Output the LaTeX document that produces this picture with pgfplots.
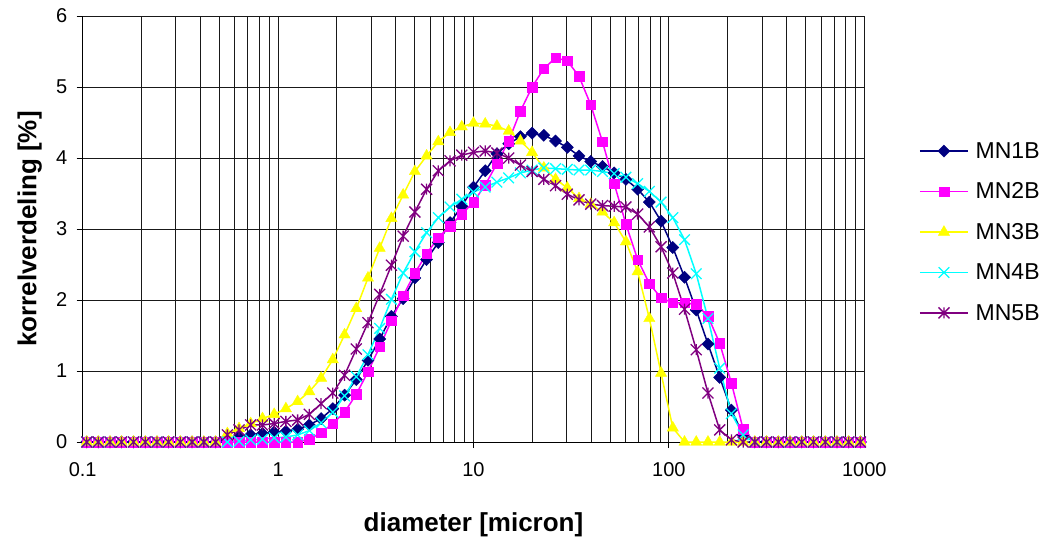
\documentclass[border=0pt]{standalone}
\usepackage{fontspec}
\setmainfont{Liberation Sans}
\usepackage{pgfplots}
\pgfplotsset{compat=1.18}
\usepackage{pgfplotstable}

\definecolor{mnA}{RGB}{0,0,128}
\definecolor{mnB}{RGB}{255,0,255}
\definecolor{mnC}{RGB}{255,255,0}
\definecolor{mnD}{RGB}{0,255,255}
\definecolor{mnE}{RGB}{128,0,128}

\pgfdeclareplotmark{exstar}{%
  \pgfpathmoveto{\pgfqpoint{-\pgfplotmarksize}{-\pgfplotmarksize}}%
  \pgfpathlineto{\pgfqpoint{\pgfplotmarksize}{\pgfplotmarksize}}%
  \pgfpathmoveto{\pgfqpoint{-\pgfplotmarksize}{\pgfplotmarksize}}%
  \pgfpathlineto{\pgfqpoint{\pgfplotmarksize}{-\pgfplotmarksize}}%
  \pgfpathmoveto{\pgfqpoint{0pt}{-\pgfplotmarksize}}%
  \pgfpathlineto{\pgfqpoint{0pt}{\pgfplotmarksize}}%
  \pgfusepathqstroke}

\pgfplotstableread{
x a b c d e
0.105 0 0 0 0 0
0.120 0 0 0 0 0
0.138 0 0 0 0 0
0.158 0 0 0 0 0
0.182 0 0 0 0 0
0.209 0 0 0 0 0
0.240 0 0 0 0 0
0.275 0 0 0 0 0
0.316 0 0 0 0 0
0.363 0 0 0 0 0
0.417 0 0 0 0 0
0.479 0 0 0 0 0
0.550 0.03 0 0.12 0 0.10
0.631 0.07 0 0.19 0.01 0.17
0.724 0.10 0 0.26 0.03 0.24
0.832 0.12 0 0.33 0.04 0.24
0.955 0.14 0 0.39 0.06 0.26
1.096 0.15 0 0.47 0.07 0.29
1.259 0.18 0 0.57 0.10 0.31
1.445 0.24 0.04 0.71 0.16 0.39
1.660 0.33 0.13 0.90 0.27 0.54
1.905 0.47 0.26 1.16 0.42 0.69
2.188 0.66 0.42 1.51 0.65 0.94
2.512 0.88 0.67 1.88 0.92 1.31
2.884 1.15 0.99 2.31 1.23 1.68
3.311 1.45 1.34 2.73 1.60 2.08
3.802 1.77 1.71 3.15 2.01 2.49
4.365 2.02 2.06 3.48 2.38 2.90
5.012 2.31 2.38 3.81 2.68 3.24
5.754 2.57 2.65 4.03 2.95 3.56
6.607 2.81 2.88 4.23 3.16 3.82
7.586 3.09 3.04 4.36 3.31 3.96
8.710 3.32 3.21 4.44 3.42 4.04
10.00 3.59 3.38 4.49 3.52 4.08
11.48 3.82 3.62 4.48 3.59 4.10
13.18 4.06 3.92 4.45 3.66 4.07
15.14 4.20 4.24 4.38 3.72 4.00
17.38 4.30 4.66 4.24 3.79 3.90
19.95 4.35 5.00 4.08 3.83 3.81
22.91 4.32 5.26 3.86 3.86 3.70
26.30 4.24 5.41 3.70 3.85 3.61
30.20 4.15 5.37 3.58 3.84 3.49
34.67 4.03 5.15 3.43 3.83 3.41
39.81 3.95 4.75 3.35 3.83 3.35
45.71 3.88 4.23 3.24 3.81 3.33
52.48 3.79 3.64 3.09 3.78 3.32
60.26 3.70 3.07 2.82 3.73 3.31
69.18 3.56 2.57 2.40 3.64 3.21
79.43 3.38 2.23 1.74 3.53 3.03
91.20 3.11 2.03 0.97 3.38 2.75
104.7 2.74 1.96 0.20 3.16 2.38
120.2 2.32 1.96 0 2.85 1.87
138.0 1.86 1.94 0 2.37 1.30
158.5 1.38 1.77 0 1.74 0.69
182.0 0.91 1.39 0 1.04 0.17
208.9 0.45 0.83 0 0.40 0.03
239.9 0.10 0.18 0 0.10 0
275.4 0 0 0 0 0
316.2 0 0 0 0 0
363.1 0 0 0 0 0
416.9 0 0 0 0 0
478.6 0 0 0 0 0
549.5 0 0 0 0 0
631.0 0 0 0 0 0
724.4 0 0 0 0 0
831.8 0 0 0 0 0
955.0 0 0 0 0 0
}\data

\begin{document}
\begin{tikzpicture}
\useasboundingbox (-82.7pt,-100pt) rectangle (964.3pt,442pt);
\begin{axis}[
  at={(0pt,0pt)}, anchor=south west,
  width=781.6pt, height=426pt, scale only axis,
  xmode=log, log basis x=10,
  xmin=0.1, xmax=1000, ymin=0, ymax=6,
  xtick={0.1,1,10,100,1000},
  xticklabels={0.1,1,10,100,1000},
  minor xtick={0.2,0.3,0.4,0.5,0.6,0.7,0.8,0.9,2,3,4,5,6,7,8,9,20,30,40,50,60,70,80,90,200,300,400,500,600,700,800,900},
  ytick={0,1,2,3,4,5,6},
  yticklabels={0,1,2,3,4,5,6},
  xmajorgrids, xminorgrids, ymajorgrids,
  major grid style={black!90, line width=0.9pt},
  minor grid style={black!90, line width=0.9pt},
  axis x line*=bottom, axis y line*=left,
  axis line style={black, line width=1pt},
  tick align=outside, major tick length=6pt, minor tick length=0pt,
  tick style={black, line width=1pt},
  clip=false,
  ticklabel style={font=\fontsize{20}{22}\selectfont},
  xticklabel style={yshift=-11pt},
  yticklabel style={xshift=-6pt},
  xlabel={diameter [micron]},
  ylabel={korrelverdeling [\%]},
  xlabel style={at={(axis description cs:0.5,-0.194)}, anchor=center, font=\bfseries\fontsize{26}{28}\selectfont},
  ylabel style={at={(axis description cs:-0.0678,0.5)}, anchor=center, font=\bfseries\fontsize{26}{28}\selectfont},
  legend style={at={(axis description cs:1.0700,0.493)}, anchor=west, draw=none, fill=none,
    inner sep=0pt, row sep=19pt, font=\fontsize{23}{25}\selectfont,
    /tikz/every odd column/.append style={column sep=5pt}},
  legend cell align=left,
  legend image code/.code={\draw[mark repeat=2,mark phase=2] plot coordinates {(0pt,0pt) (24pt,0pt) (48pt,0pt)};},
]
\addplot[color=mnA, line width=1.5pt, mark=square*, mark size=4.3pt, mark options={solid, rotate=45, fill=mnA, line width=0.4pt}] table[x=x,y=a]{\data};
\addlegendentry{MN1B}
\addplot[color=mnB, line width=1.5pt, mark=square*, mark size=4.8pt, mark options={solid, fill=mnB, line width=0.4pt}] table[x=x,y=b]{\data};
\addlegendentry{MN2B}
\addplot[color=mnC, line width=1.5pt, mark=triangle*, mark size=6.5pt, mark options={solid, fill=mnC, line width=0.4pt}] table[x=x,y=c]{\data};
\addlegendentry{MN3B}
\addplot[color=mnD, line width=1.5pt, mark=x, mark size=7.5pt, mark options={solid, line width=1.3pt}] table[x=x,y=d]{\data};
\addlegendentry{MN4B}
\addplot[color=mnE, line width=1.5pt, mark=exstar, mark size=5.5pt, mark options={solid, line width=1.3pt}] table[x=x,y=e]{\data};
\addlegendentry{MN5B}
\end{axis}
\end{tikzpicture}
\end{document}
